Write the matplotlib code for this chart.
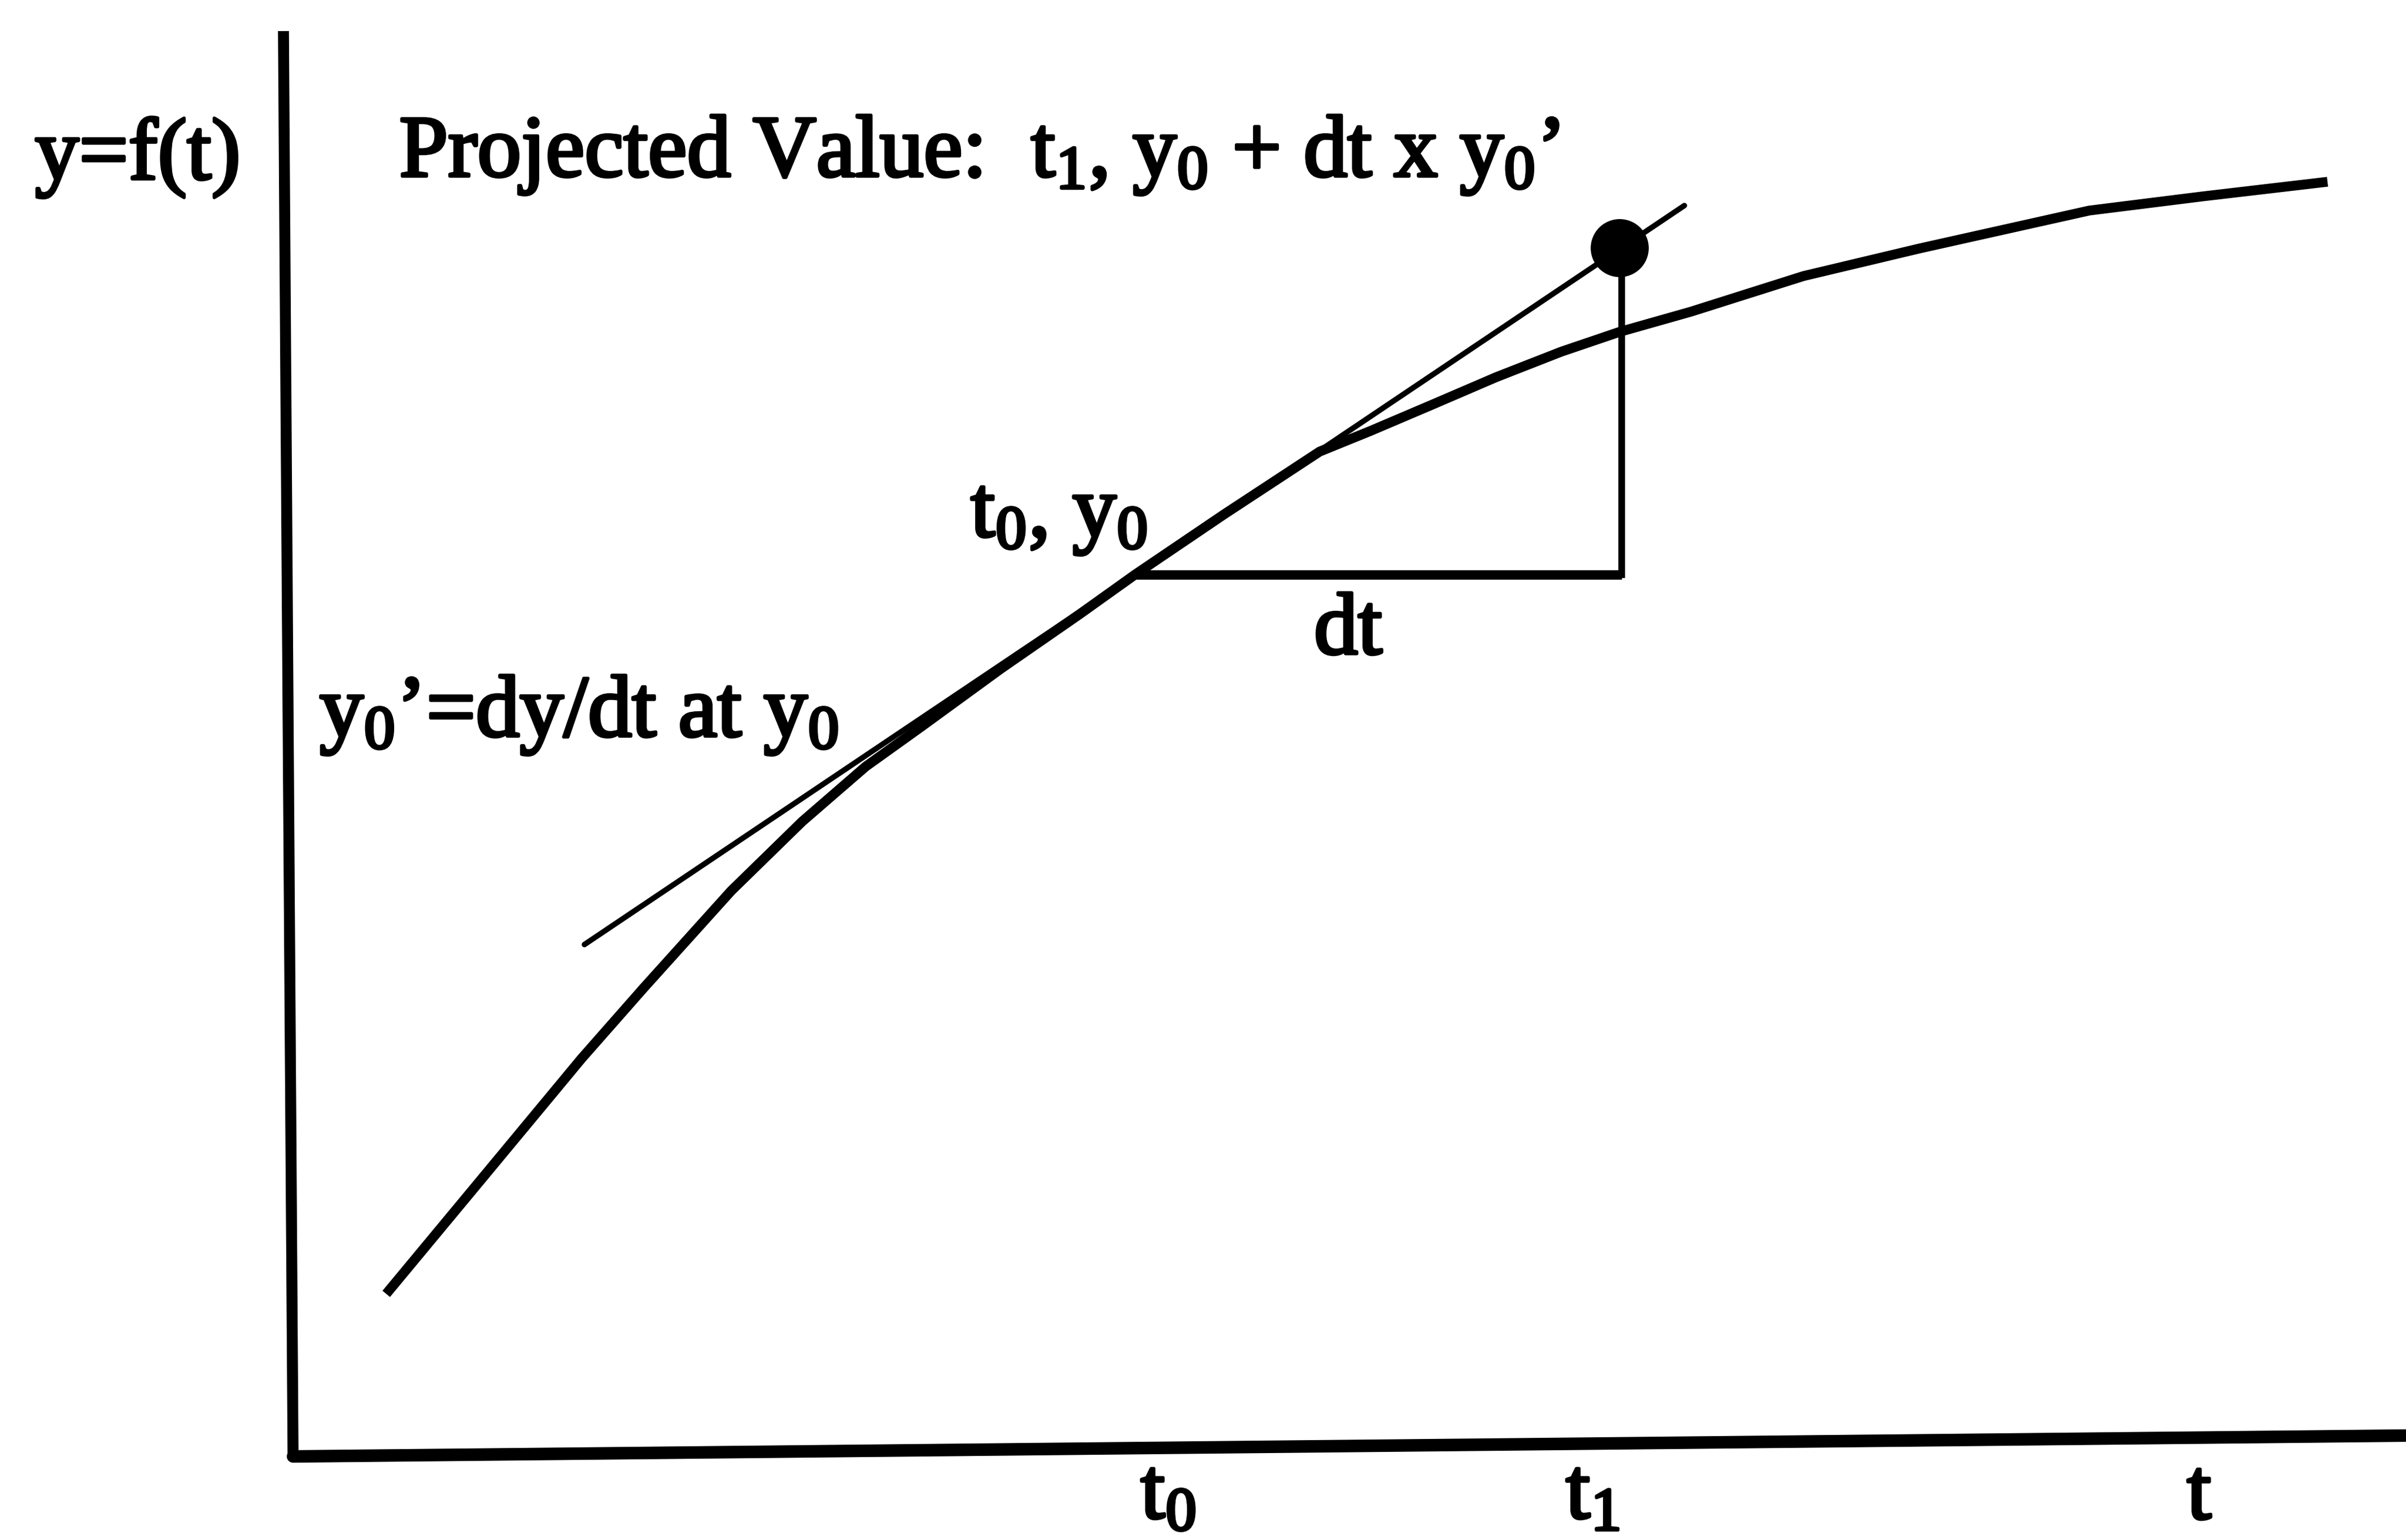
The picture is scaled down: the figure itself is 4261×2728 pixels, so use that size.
import numpy as np
import matplotlib
matplotlib.use("Agg")
import matplotlib.pyplot as plt
import matplotlib.patheffects as pe

# 图中坐标 (像素单位, y 向下)
curve_t = [684, 850, 1030, 1140, 1295, 1421, 1533, 1632, 1772, 1912, 2010, 2168, 2337,
           2428, 2536, 2650, 2765, 2868, 2995, 3194, 3400, 3700, 3900, 4122]
curve_y = [2292, 2092, 1875, 1750, 1578, 1455, 1358, 1287, 1185, 1088, 1018, 911, 800,
           763, 717, 668, 623, 588, 552, 489, 440, 373, 348, 322]

t0, y0 = 2010, 1018
dt = 862
slope = -0.672          # dy/dt at y0
tan_t = [1035, 2983]    # tangent line extent

yaxis_t = [502, 519]
yaxis_y = [55, 2580]
xaxis_t = [519, 4261]
xaxis_y = [2580, 2543]

plt.rcParams['font.family'] = ['Liberation Serif', 'DejaVu Serif']
plt.rcParams['mathtext.fontset'] = 'custom'
plt.rcParams['mathtext.rm'] = 'Liberation Serif'
plt.rcParams['mathtext.it'] = 'Liberation Serif'
plt.rcParams['mathtext.bf'] = 'Liberation Serif:bold'
plt.rcParams['mathtext.default'] = 'regular'

W, H = 4261, 2728
fig = plt.figure(figsize=(W / 100, H / 100), dpi=100)
ax = fig.add_axes([0, 0, 1, 1])
ax.set_xlim(0, W)
ax.set_ylim(H, 0)
ax.axis('off')

# axes
ax.plot(yaxis_t, yaxis_y, color='black', lw=14, solid_capstyle='butt')
ax.plot(xaxis_t, xaxis_y, color='black', lw=16, solid_capstyle='round')

# f(t)
ax.plot(curve_t, curve_y, color='black', lw=12.5, solid_joinstyle='round', solid_capstyle='butt')

# tangent at t0
tan_t = np.array(tan_t)
ax.plot(tan_t, y0 + slope * (tan_t - t0), color='black', lw=7, solid_capstyle='round')

# dt step and projection
t1 = t0 + dt
y1 = y0 + slope * dt
ax.plot([t0, t1], [y0, y0], color='black', lw=12, solid_capstyle='butt')
ax.plot([t1, t1], [y0 + 6, y1], color='black', lw=8.5, solid_capstyle='butt')
ax.plot([t1 - 4], [y1], 'o', color='black', ms=73)

fs = 112
stroke = [pe.withStroke(linewidth=4, foreground='black')]
kw = dict(fontsize=fs, va='baseline', ha='left', color='black', path_effects=stroke)

ax.text(62, 317, 'y=f(t)', **kw)
ax.text(707, 313, 'Projected Value:  $t_1$, $y_0$ + dt x $y_0$\u2019', **kw)
ax.text(1719, 951, '$t_0$, $y_0$', **kw)
ax.text(566, 1305, '$y_0$\u2019=dy/dt at $y_0$', **kw)
ax.text(2327, 1158, 'dt', **kw)
ax.text(2020, 2690, '$t_0$', **kw)
ax.text(2773, 2690, '$t_1$', **kw)
ax.text(3873, 2690, 't', **kw)

fig.savefig('out.png', dpi=100)
